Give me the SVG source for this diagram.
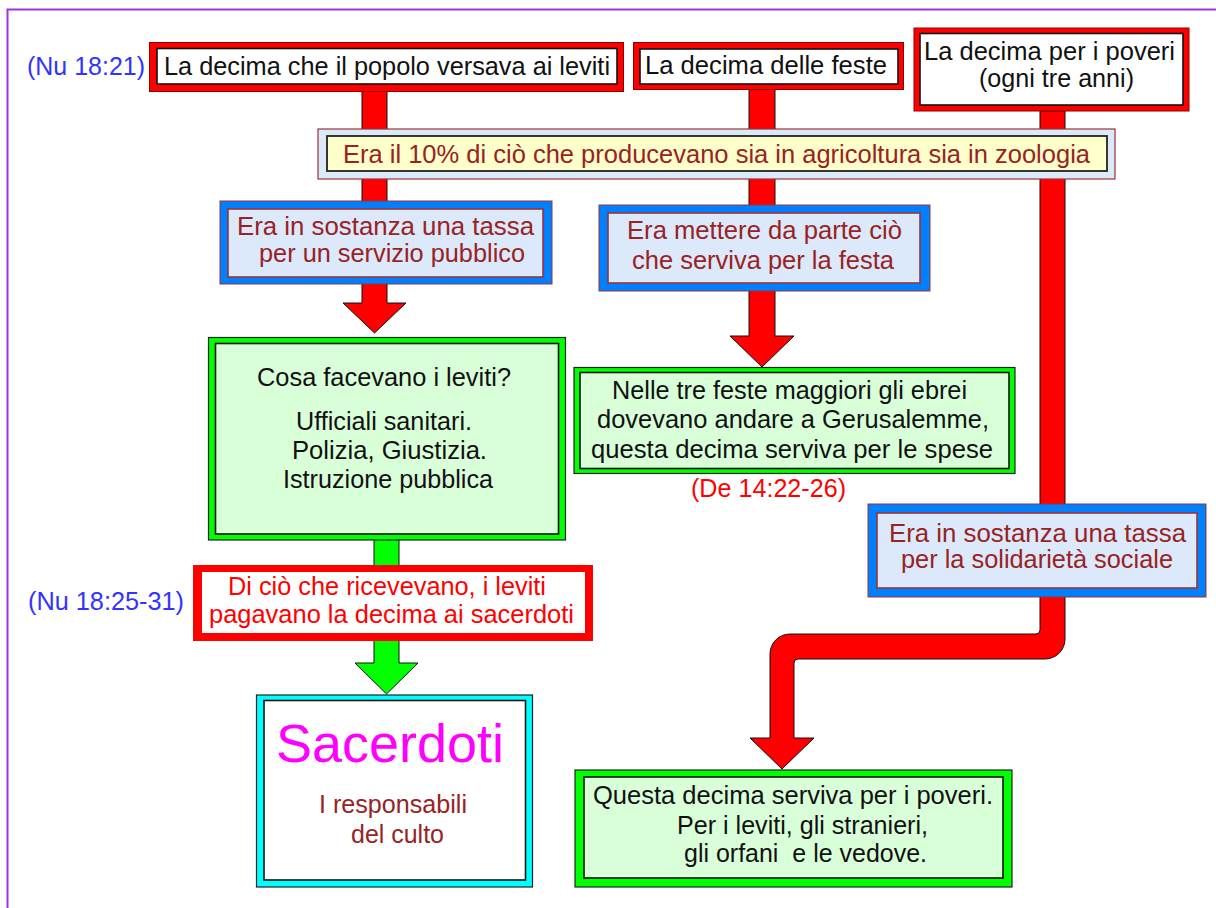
<svg xmlns="http://www.w3.org/2000/svg" width="1216" height="908" viewBox="0 0 1216 908">
<style>
text{font-family:"Liberation Sans",Arial,sans-serif;font-size:25px}
.blk{fill:#111}
.dr{fill:#992222}
.blu{fill:#3333ff}
.red{fill:#ff0000}
.mag{fill:#ff00ff}
.oRed{fill:#ff0000;stroke:#8b0000;stroke-width:1}
.iWhite{fill:#ffffff;stroke:#111;stroke-width:1.6}
.oBlue{fill:#0080ff;stroke:#993333;stroke-width:1}
.iBlue{fill:#dbe9fb;stroke:#993333;stroke-width:1.6}
.oYel{fill:#dbe9fb;stroke:#993333;stroke-width:1.2}
.iYel{fill:#ffffcc;stroke:#222;stroke-width:1.8}
.oGreen{fill:#00ff00;stroke:#222;stroke-width:1.2}
.iGreen{fill:#d9ffd9;stroke:#111;stroke-width:1.6}
.oCyan{fill:#00ffff;stroke:#222;stroke-width:1.2}
.oPlain{fill:#ff0000}
.iPlain{fill:#ffffff}
.arR{fill:#ff0000;stroke:#111;stroke-width:1}
.arG{fill:#00ff00;stroke:#111;stroke-width:1}
</style>
<rect x="0" y="0" width="1216" height="908" fill="#ffffff"/>
<rect x="7.5" y="9.5" width="1220" height="910" fill="none" stroke="#a030e0" stroke-width="2"/>

<g id="connectors">
  <path class="arR" d="M362,91 L387,91 L387,303 L406,303 L374.5,333 L343,303 L362,303 Z"/>
  <path class="arR" d="M749,89 L775,89 L775,336 L794,336 L762,367 L730,336 L749,336 Z"/>
  <path class="arR" d="M1040,111 L1065,111 L1065,639 A20,20 0 0 1 1045,659 L798,659 A4,4 0 0 0 794,663 L794,738 L814,738 L782,769 L750,738 L770,738 L770,654 A20,20 0 0 1 790,634 L1036,634 A4,4 0 0 0 1040,630 Z"/>
  <path class="arG" d="M374,539 L399,539 L399,663 L418,663 L386.5,694 L355,663 L374,663 Z"/>
</g>

<g id="ref-nu-18-21"><text class="blu" x="27" y="75" textLength="118" lengthAdjust="spacingAndGlyphs">(Nu 18:21)</text></g>

<g id="decima-leviti">
  <rect class="oRed" x="149.5" y="42.5" width="474" height="49"/>
  <rect class="iWhite" x="157" y="48.5" width="460" height="35.5"/>
  <text class="blk" x="164" y="75" textLength="446" lengthAdjust="spacingAndGlyphs">La decima che il popolo versava ai leviti</text>
</g>

<g id="decima-feste">
  <rect class="oRed" x="633.5" y="42.5" width="270" height="47"/>
  <rect class="iWhite" x="640" y="49" width="258" height="35"/>
  <text class="blk" x="645" y="74" textLength="242" lengthAdjust="spacingAndGlyphs">La decima delle feste</text>
</g>

<g id="decima-poveri">
  <rect class="oRed" x="914" y="28" width="275" height="83"/>
  <rect class="iWhite" x="920" y="33.5" width="263" height="71.5"/>
  <text class="blk" x="924" y="60" textLength="251" lengthAdjust="spacingAndGlyphs">La decima per i poveri</text>
  <text class="blk" x="979" y="87" textLength="155" lengthAdjust="spacingAndGlyphs">(ogni tre anni)</text>
</g>

<g id="dieci-percento">
  <rect class="oYel" x="318" y="129" width="797" height="50"/>
  <rect class="iYel" x="327" y="136" width="780" height="35"/>
  <text class="dr" x="343" y="163" textLength="747" lengthAdjust="spacingAndGlyphs">Era il 10% di ciò che producevano sia in agricoltura sia in zoologia</text>
</g>

<g id="tassa-servizio">
  <rect class="oBlue" x="220" y="201" width="332" height="83"/>
  <rect class="iBlue" x="228" y="209" width="315" height="68"/>
  <text class="dr" x="237" y="235" textLength="297" lengthAdjust="spacingAndGlyphs">Era in sostanza una tassa</text>
  <text class="dr" x="259" y="262" textLength="266" lengthAdjust="spacingAndGlyphs">per un servizio pubblico</text>
</g>

<g id="mettere-da-parte">
  <rect class="oBlue" x="599" y="205" width="331" height="86"/>
  <rect class="iBlue" x="608" y="213" width="312" height="70"/>
  <text class="dr" x="627" y="239" textLength="275" lengthAdjust="spacingAndGlyphs">Era mettere da parte ciò</text>
  <text class="dr" x="632" y="269" textLength="262" lengthAdjust="spacingAndGlyphs">che serviva per la festa</text>
</g>

<g id="cosa-facevano">
  <rect class="oGreen" x="208.5" y="337.5" width="357" height="202.5"/>
  <rect class="iGreen" x="215.5" y="343.5" width="343" height="190.5"/>
  <text class="blk" x="257" y="386" textLength="254" lengthAdjust="spacingAndGlyphs">Cosa facevano i leviti?</text>
  <text class="blk" x="296" y="430" textLength="176" lengthAdjust="spacingAndGlyphs">Ufficiali sanitari.</text>
  <text class="blk" x="292" y="459" textLength="195" lengthAdjust="spacingAndGlyphs">Polizia, Giustizia.</text>
  <text class="blk" x="283" y="488" textLength="210" lengthAdjust="spacingAndGlyphs">Istruzione pubblica</text>
</g>

<g id="tre-feste">
  <rect class="oGreen" x="574" y="367.5" width="441" height="106"/>
  <rect class="iGreen" x="580" y="372.5" width="429" height="96"/>
  <text class="blk" x="612" y="399" textLength="355" lengthAdjust="spacingAndGlyphs">Nelle tre feste maggiori gli ebrei</text>
  <text class="blk" x="597" y="428" textLength="392" lengthAdjust="spacingAndGlyphs">dovevano andare a Gerusalemme,</text>
  <text class="blk" x="591" y="458" textLength="402" lengthAdjust="spacingAndGlyphs">questa decima serviva per le spese</text>
</g>

<g id="ref-de-14"><text class="red" x="691" y="497" textLength="155" lengthAdjust="spacingAndGlyphs">(De 14:22-26)</text></g>

<g id="tassa-solidarieta">
  <rect class="oBlue" x="868" y="504" width="338" height="93"/>
  <rect class="iBlue" x="877" y="513" width="320" height="75"/>
  <text class="dr" x="889" y="542" textLength="297" lengthAdjust="spacingAndGlyphs">Era in sostanza una tassa</text>
  <text class="dr" x="901" y="568" textLength="272" lengthAdjust="spacingAndGlyphs">per la solidarietà sociale</text>
</g>

<g id="ref-nu-18-25"><text class="blu" x="28" y="610" textLength="156" lengthAdjust="spacingAndGlyphs">(Nu 18:25-31)</text></g>

<g id="leviti-pagavano">
  <rect class="oPlain" x="193" y="565" width="400" height="76"/>
  <rect class="iPlain" x="202" y="572" width="383" height="61"/>
  <text class="red" x="228" y="595" textLength="318" lengthAdjust="spacingAndGlyphs">Di ciò che ricevevano, i leviti</text>
  <text class="red" x="209" y="623" textLength="365" lengthAdjust="spacingAndGlyphs">pagavano la decima ai sacerdoti</text>
</g>

<g id="sacerdoti">
  <rect class="oCyan" x="256.5" y="695" width="276" height="192"/>
  <rect class="iWhite" x="264" y="700.5" width="261.5" height="179.5"/>
  <text class="mag" x="276" y="762" style="font-size:54px" textLength="228" lengthAdjust="spacingAndGlyphs">Sacerdoti</text>
  <text class="dr" x="319" y="813" textLength="148" lengthAdjust="spacingAndGlyphs">I responsabili</text>
  <text class="dr" x="351" y="843" textLength="93" lengthAdjust="spacingAndGlyphs">del culto</text>
</g>

<g id="per-i-poveri">
  <rect class="oGreen" x="575" y="770" width="437" height="117"/>
  <rect class="iGreen" x="584" y="777" width="419" height="101"/>
  <text class="blk" x="593" y="804" textLength="400" lengthAdjust="spacingAndGlyphs">Questa decima serviva per i poveri.</text>
  <text class="blk" x="677" y="834" textLength="251" lengthAdjust="spacingAndGlyphs">Per i leviti, gli stranieri,</text>
  <text class="blk" x="684" y="862" xml:space="preserve" textLength="243" lengthAdjust="spacingAndGlyphs">gli orfani  e le vedove.</text>
</g>
</svg>
